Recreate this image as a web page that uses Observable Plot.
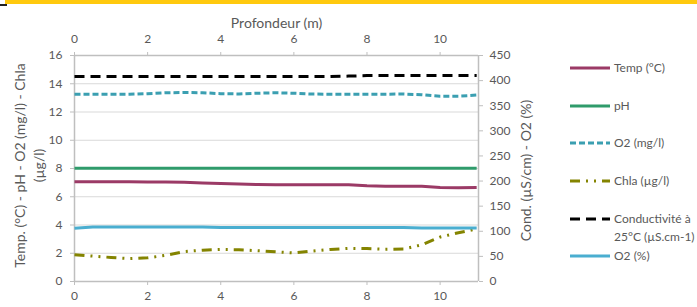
<!DOCTYPE html>
<html><head><meta charset="utf-8">
<script src="https://cdn.jsdelivr.net/npm/d3@7"></script>
<script src="https://cdn.jsdelivr.net/npm/@observablehq/plot@0.6"></script>
<style>
body{margin:0;background:#fff;font-family:Lato,"Open Sans",sans-serif;}
#wrap{position:relative;width:697px;height:307px;overflow:hidden;background:#fff}
#bar{position:absolute;left:5px;top:0;width:692px;height:4px;background:#ffc90e}
#mark{position:absolute;left:0;top:4px;width:7px;height:2px;background:#222}
#legend{position:absolute;left:0;top:0}
</style>
</head><body>
<div id="wrap"><div id="bar"></div><div id="mark"></div></div>
<script>
// ---- data ----
const depth = [0,0.5,1,1.5,2,2.5,3,3.5,4,4.5,5,5.5,6,6.5,7,7.5,8,8.5,9,9.5,10,10.5,11];
const temp  = [7.06,7.06,7.06,7.06,7.05,7.05,7.02,6.98,6.93,6.9,6.87,6.85,6.85,6.85,6.85,6.85,6.78,6.75,6.75,6.74,6.66,6.63,6.65];
const ph    = [8.01,8.01,8.01,8.01,8.01,8.01,8.01,8.01,8.01,8.01,8.01,8.01,8.01,8.01,8.01,8.01,8.01,8.01,8.01,8.01,8.01,8.01,8.01];
const o2mg  = [13.25,13.25,13.25,13.26,13.3,13.36,13.38,13.36,13.3,13.28,13.33,13.36,13.33,13.27,13.26,13.26,13.26,13.26,13.27,13.22,13.12,13.12,13.2];
const chla  = [1.9,1.8,1.7,1.62,1.68,1.85,2.12,2.22,2.27,2.25,2.18,2.1,2.02,2.15,2.27,2.35,2.33,2.28,2.3,2.6,3.15,3.45,3.72];
const cond  = [408,408,408,408,408,408,408,408,408,408,408,408,408,408,408,409,410,410,410,410,410,410,410];
const o2pct = [106,108.5,108.5,108.5,108.5,108.5,108.5,108.5,107.5,107.5,107.5,107.5,107.5,107.5,107.5,107.5,107.5,107.5,107.5,106.5,106.5,106.5,106.5];

const xTicks = [0,2,4,6,8,10];
const yLeftTicks = [0,2,4,6,8,10,12,14,16];
const yRightTicks = [0,50,100,150,200,250,300,350,400,450];

const seriesNames  = ["Temp (°C)","pH","O2 (mg/l)","Chla (µg/l)","Conductivité à\n25°C (µS.cm-1)","O2 (%)"];
const seriesColors = ["#9b3a66","#2f9b6b","#3b9fb1","#848400","#000000","#4aaed0"];
const seriesDash   = [null,null,"6,3","10,6,2,6,2,6","10,6",null];
const seriesAxis   = ["left","left","left","left","right","right"];
const seriesValues = [temp,ph,o2mg,chla,cond,o2pct];

const xLabel = "Profondeur (m)";
const yLeftLabel = "Temp. (°C) - pH - O2 (mg/l) - Chla\n(µg/l)";
const yRightLabel = "Cond. (µS/cm) - O2 (%)";

const leftMax = 16, rightMax = 450, k = leftMax/rightMax;
const xMax = 11.05;

const lineMarks = seriesValues.map((vals,i) => {
  const pts = depth.map((d,j)=>({x:d, y: seriesAxis[i]==="right" ? vals[j]*k : vals[j]}));
  return Plot.line(pts, {x:"x", y:"y", stroke: seriesColors[i], strokeWidth: 3,
    strokeDasharray: seriesDash[i] || undefined, strokeLinecap:"butt", curve:"linear"});
});

const txt = "#595959";
const chart = Plot.plot({
  width: 697, height: 307,
  marginLeft: 74, marginRight: 219, marginTop: 55, marginBottom: 26,
  x: {domain:[0,xMax]},
  y: {domain:[0,leftMax]},
  style: {fontFamily:"Lato, 'Open Sans', sans-serif", fontSize:"12px", color:txt, background:"transparent"},
  marks: [
    Plot.gridY(yLeftTicks.filter(v=>v>0 && v<leftMax), {stroke:"#d9d9d9", strokeOpacity:1}),
    Plot.ruleY([0,leftMax], {stroke:"#bfbfbf", strokeWidth:1.5}),
    Plot.ruleX([0,xMax], {stroke:"#bfbfbf", strokeWidth:1.5}),
    Plot.axisX(xTicks, {anchor:"top", tickSize:4, tickPadding:9, stroke:"#bfbfbf", fill:txt, label:null, fontSize:12}),
    Plot.axisX(xTicks, {anchor:"bottom", tickSize:4, tickPadding:6, stroke:"#bfbfbf", fill:txt, label:null, fontSize:12}),
    Plot.axisY(yLeftTicks, {anchor:"left", tickSize:4, tickPadding:8, stroke:"#bfbfbf", fill:txt, label:null, fontSize:12}),
    Plot.axisY(yRightTicks.map(v=>v*k), {anchor:"right", tickSize:4, tickPadding:7, stroke:"#bfbfbf", fill:txt, label:null, fontSize:12,
      tickFormat: d => String(Math.round(d/k))}),
    ...lineMarks,
    Plot.text([xLabel], {text:d=>d, frameAnchor:"top", dy:-37, fill:txt, fontSize:14}),
    Plot.text([yLeftLabel], {text:d=>d, frameAnchor:"left", textAnchor:"middle", dx:-46, dy:-3, rotate:-90, fill:txt, fontSize:14, lineHeight:1.35}),
    Plot.text([yRightLabel], {text:d=>d, frameAnchor:"right", textAnchor:"middle", dx:48, dy:2, rotate:-90, fill:txt, fontSize:14})
  ]
});
document.getElementById("wrap").appendChild(chart);

// ---- legend ----
const legendY = [68,106,143,181,219,256];
const svg = d3.select("#wrap").append("svg").attr("id","legend").attr("width",697).attr("height",307);
seriesNames.forEach((name,i)=>{
  const g = svg.append("g");
  g.append("line").attr("x1",570).attr("x2",610).attr("y1",legendY[i]).attr("y2",legendY[i])
    .attr("stroke",seriesColors[i]).attr("stroke-width",3)
    .attr("stroke-dasharray",seriesDash[i]||null);
  const t = g.append("text").attr("x",614).attr("y",legendY[i]).attr("fill",txt)
    .attr("font-family","Lato, 'Open Sans', sans-serif").attr("font-size",12);
  name.split("\n").forEach((ln,j)=>{
    t.append("tspan").attr("x",614).attr("y",legendY[i]+j*18).attr("dy","0.35em").text(ln);
  });
});
</script>
</body></html>
